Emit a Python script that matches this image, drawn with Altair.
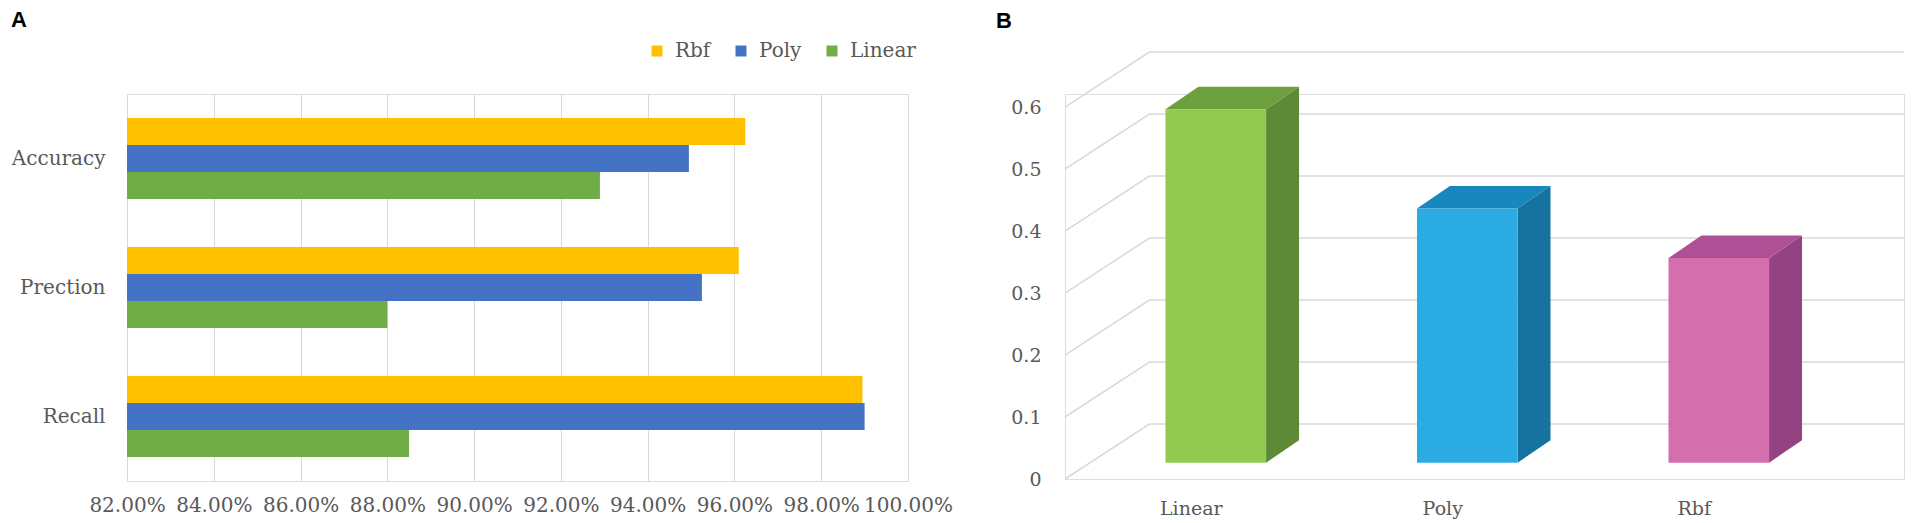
import altair as alt
import pandas as pd

# ---------------- Panel A data ----------------
metrics = ["Accuracy", "Prection", "Recall"]
kernels_a = ["Rbf", "Poly", "Linear"]
rbf_vals = [0.9625, 0.9610, 0.9895]
poly_vals = [0.9495, 0.9525, 0.9900]
linear_vals = [0.9290, 0.8800, 0.8850]
x_ticks_a = [0.82, 0.84, 0.86, 0.88, 0.90, 0.92, 0.94, 0.96, 0.98, 1.00]
colors_a = ["#FFC000", "#4472C4", "#70AD47"]

# ---------------- Panel B data ----------------
kernels_b = ["Linear", "Poly", "Rbf"]
values_b = [0.57, 0.41, 0.33]
y_ticks_b = [0, 0.1, 0.2, 0.3, 0.4, 0.5, 0.6]
front_colors = ["#92C951", "#2AACE2", "#D46EAC"]
top_colors = ["#6E9F3E", "#1787BD", "#AF4F96"]
side_colors = ["#5D8A36", "#16729F", "#954283"]

TEXT = "#595959"
GRID = "#D9D9D9"
SERIF = "DejaVu Serif"

# ---------------- Panel A chart ----------------
rows = []
for k, vals in zip(kernels_a, [rbf_vals, poly_vals, linear_vals]):
    for m, v in zip(metrics, vals):
        rows.append({"metric": m, "kernel": k, "value": v})
df_a = pd.DataFrame(rows)

left = alt.Chart(df_a).mark_bar().encode(
    y=alt.Y("metric:N", sort=metrics,
            scale=alt.Scale(paddingInner=0.372, paddingOuter=0.186),
            axis=alt.Axis(title=None, ticks=False, domain=False, labelPadding=22,
                          labelFont=SERIF, labelFontSize=20, labelColor=TEXT)),
    yOffset=alt.YOffset("kernel:N", sort=kernels_a,
                        scale=alt.Scale(paddingInner=0, paddingOuter=0)),
    x=alt.X("value:Q", scale=alt.Scale(domain=[0.82, 1.0], nice=False, zero=False),
            axis=alt.Axis(title=None, values=x_ticks_a, format=".2%", ticks=False,
                          domain=False, grid=True, gridColor=GRID, gridWidth=1,
                          labelPadding=14, labelOverlap=False, labelFlush=False,
                          labelFont=SERIF, labelFontSize=20, labelColor=TEXT)),
    x2=alt.datum(0.82),
    color=alt.Color("kernel:N", sort=kernels_a,
                    scale=alt.Scale(domain=kernels_a, range=colors_a),
                    legend=alt.Legend(orient="none", legendX=520, legendY=-53,
                                      direction="horizontal", title=None,
                                      symbolType="square", symbolSize=121,
                                      symbolStrokeWidth=0, labelOffset=8,
                                      columnPadding=20, padding=0,
                                      labelFont=SERIF, labelFontSize=20,
                                      labelColor=TEXT)),
).properties(
    width=781, height=387,
    title=alt.TitleParams("A", anchor="start", frame="group", dx=-116, dy=-5,
                          font="Liberation Sans", fontSize=22, fontWeight="bold",
                          color="black"),
)

# ---------------- Panel B chart (pseudo 3D columns) ----------------
n = len(kernels_b)
DEPTH_X = 0.336      # floor depth (category units)
DEPTH_Y = 0.0887     # floor depth (value units)
SET_X = 0.0995       # bar set-back from front edge
SET_Y = 0.0263
HALF_W = 0.2
BAR_DX = 0.131
BAR_DY = 0.0363

grid_rows = []
for t in y_ticks_b:
    pts = [(-0.5, t), (-0.5 + DEPTH_X, t + DEPTH_Y), (n - 0.5 + DEPTH_X, t + DEPTH_Y)]
    for i, (px, py) in enumerate(pts):
        grid_rows.append({"t": t, "i": i, "x": px, "y": py})
grid_df = pd.DataFrame(grid_rows)

front_rows, side_rows, top_rows = [], [], []
for idx, (k, v) in enumerate(zip(kernels_b, values_b)):
    xl = idx + SET_X - HALF_W
    xr = idx + SET_X + HALF_W
    b = SET_Y
    front_rows.append({"key": k + "-front", "x": xl, "x2": xr, "y": b, "y2": v + b})
    side_rows += [
        {"key": k + "-side", "x": xr, "lo": b, "hi": v + b},
        {"key": k + "-side", "x": xr + BAR_DX, "lo": b + BAR_DY, "hi": v + b + BAR_DY},
    ]
    top = v + b
    top_rows += [
        {"key": k + "-top", "x": xl, "lo": top, "hi": top},
        {"key": k + "-top", "x": xl + BAR_DX, "lo": top, "hi": top + BAR_DY},
        {"key": k + "-top", "x": xr, "lo": top, "hi": top + BAR_DY},
        {"key": k + "-top", "x": xr + BAR_DX, "lo": top + BAR_DY, "hi": top + BAR_DY},
    ]
front_df = pd.DataFrame(front_rows)
side_df = pd.DataFrame(side_rows)
top_df = pd.DataFrame(top_rows)

keys = [k + "-front" for k in kernels_b] + [k + "-side" for k in kernels_b] + [k + "-top" for k in kernels_b]
key_colors = front_colors + side_colors + top_colors
color_b = alt.Color("key:N", scale=alt.Scale(domain=keys, range=key_colors), legend=None)

xs = alt.Scale(domain=[-0.5, n - 0.5 + DEPTH_X], nice=False, zero=False)
ys = alt.Scale(domain=[0, 0.621], nice=False, zero=False)
label_expr = "[" + ",".join("'" + k + "'" for k in kernels_b) + "][datum.value]"
x_axis_b = alt.Axis(title=None, values=list(range(n)), labelExpr=label_expr, ticks=False,
                    domain=False, grid=False, labelPadding=20, labelFont=SERIF,
                    labelFontSize=19, labelColor=TEXT, labelFlush=False)
y_axis_b = alt.Axis(title=None, values=y_ticks_b, format=".1~f", ticks=False, domain=False,
                    grid=False, labelPadding=24, labelFont=SERIF, labelFontSize=19,
                    labelColor=TEXT)

grid_layer = alt.Chart(grid_df).mark_line(color=GRID, strokeWidth=1.5).encode(
    x=alt.X("x:Q", scale=xs, axis=x_axis_b),
    y=alt.Y("y:Q", scale=ys, axis=y_axis_b),
    detail="t:N",
    order="i:Q",
)
front_layer = alt.Chart(front_df).mark_rect().encode(
    x=alt.X("x:Q", scale=xs, axis=x_axis_b), x2="x2:Q",
    y=alt.Y("y:Q", scale=ys, axis=y_axis_b), y2="y2:Q",
    color=color_b,
)
side_layer = alt.Chart(side_df).mark_area().encode(
    x=alt.X("x:Q", scale=xs, axis=x_axis_b),
    y=alt.Y("lo:Q", scale=ys, axis=y_axis_b), y2="hi:Q",
    detail="key:N",
    color=color_b,
)
top_layer = alt.Chart(top_df).mark_area().encode(
    x=alt.X("x:Q", scale=xs, axis=x_axis_b),
    y=alt.Y("lo:Q", scale=ys, axis=y_axis_b), y2="hi:Q",
    detail="key:N",
    color=color_b,
)

right = alt.layer(grid_layer, side_layer, top_layer, front_layer).properties(
    width=839, height=385,
    title=alt.TitleParams("B", anchor="start", frame="group", dx=-69, dy=-12,
                          font="Liberation Sans", fontSize=22, fontWeight="bold",
                          color="black"),
)

chart = alt.hconcat(left, right, spacing=157, bounds="flush").resolve_scale(
    color="independent"
).resolve_legend(color="independent").properties(
    padding={"left": 2, "top": 0, "right": 0, "bottom": 0}
).configure_view(strokeWidth=0).configure(background="white")

chart.save("out.html", embed_options={"renderer": "svg", "actions": False})
